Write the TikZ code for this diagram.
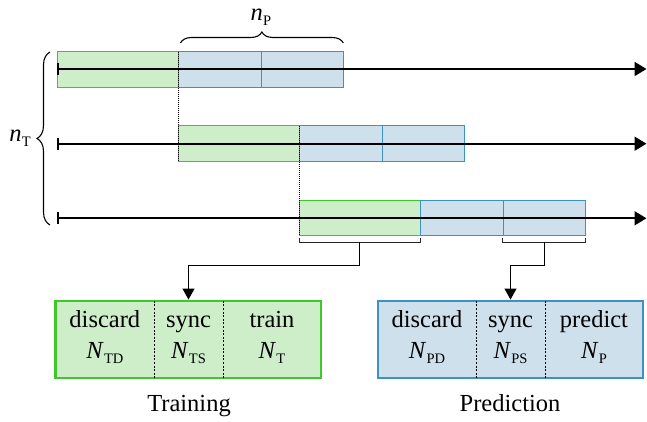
\documentclass[tikz,border=0pt]{standalone}
\usepackage{fontspec}
\setmainfont{Liberation Serif}[Ligatures=TeX]
\newfontfamily\timesfont{Liberation Serif}
\usetikzlibrary{arrows.meta,decorations.pathreplacing,calc}
\definecolor{gfill}{RGB}{205,238,200}
\definecolor{gline}{RGB}{62,200,45}
\definecolor{bfill}{RGB}{205,224,236}
\definecolor{bline}{RGB}{62,145,195}
\newcommand{\symsub}[2]{\textit{#1}\kern0.3pt\raisebox{-0.2em}{\fontsize{14.5}{14.5}\selectfont #2}}
\begin{document}
\begin{tikzpicture}[x=1pt,y=-1pt,
  font=\timesfont\fontsize{24.5}{29}\selectfont,
  seg/.style={minimum height=35.6pt, inner sep=0pt, outer sep=0pt, anchor=west, line width=0.8pt},
  gseg/.style={seg, fill=gfill, draw=gline, minimum width=121pt},
  bseg/.style={seg, fill=bfill, draw=bline, minimum width=82.6pt},
  tline/.style={line width=1.8pt, {Bar[width=12pt,line width=1.6pt]}-{Triangle[length=12pt,width=14pt]}},
  guide/.style={line width=0.7pt, dash pattern=on 1pt off 1pt},
  bracket/.style={line width=1.1pt, black!85},
  conn/.style={line width=1.2pt, -{Triangle[length=11pt,width=12pt]}},
  cell/.style={minimum height=77.3pt, inner sep=0pt, outer sep=0pt, anchor=west},
  gcell/.style={cell, fill=gfill},
  bcell/.style={cell, fill=bfill},
  divider/.style={line width=0.8pt, dash pattern=on 2pt off 1.6pt},
  lbl/.style={anchor=base, inner sep=0pt},
  bracestyle/.style={line width=1.1pt, decorate}
]
\useasboundingbox (0,0) rectangle (647,422);

% row 1
\node[gseg] (g1) at (57.3,69.5) {};
\node[bseg] (b1a) at (g1.east) {};
\node[bseg] (b1b) at (b1a.east) {};
% row 2
\node[gseg] (g2) at (178.3,143.7) {};
\node[bseg] (b2a) at (g2.east) {};
\node[bseg] (b2b) at (b2a.east) {};
% row 3
\node[gseg] (g3) at (299.3,218) {};
\node[bseg] (b3a) at (g3.east) {};
\node[bseg] (b3b) at (b3a.east) {};

% timelines
\coordinate (s1) at (57.3,69);
\coordinate (e1) at (646.5,69);
\coordinate (s2) at (57.3,143.7);
\coordinate (e2) at (646.5,143.7);
\coordinate (s3) at (57.3,218.3);
\coordinate (e3) at (646.5,218.3);
\draw[tline] (s1) -- (e1);
\draw[tline] (s2) -- (e2);
\draw[tline] (s3) -- (e3);

% dotted guides
\draw[guide] (b1a.north west) -- (g2.south west);
\draw[guide] (b2a.north west) -- (g3.south west);

% braces
\coordinate (np1) at (180.5,43);
\coordinate (np2) at (343.3,43);
\draw[bracestyle, decoration={brace, amplitude=11pt, aspect=0.5}] (np1) -- (np2);
\node[lbl] (npl) at (261,21) {\symsub{n}{P}};
\coordinate (nt1) at (50,225);
\coordinate (nt2) at (50,52);
\draw[bracestyle, decoration={brace, amplitude=13pt}] (nt1) -- (nt2);
\node[lbl] (ntl) at (20,141.5) {\symsub{n}{T}};

% brackets under row 3
\coordinate (gbA) at ($(g3.south west)+(0,2.5)$);
\coordinate (gbB) at ($(g3.south east)+(0,2.5)$);
\draw[bracket] (gbA) -- ++(0,4) -| (gbB);
\coordinate (pbA) at ($(b3b.south west)+(0,2.5)$);
\coordinate (pbB) at ($(b3b.south east)+(0,2.5)$);
\draw[bracket] (pbA) -- ++(0,4) -| (pbB);
\coordinate (gbM) at ($(g3.south)+(0,6.5)$);
\coordinate (pbM) at ($(b3b.south)+(0,6.5)$);

% training box
\node[gcell, minimum width=98.3pt] (td) at (55.7,339.4) {};
\node[gcell, minimum width=69pt] (ts) at (td.east) {};
\node[gcell, minimum width=98pt] (tt) at (ts.east) {};
\draw[gline, line width=2.5pt] (td.north west) rectangle (tt.south east);
\draw[divider] (td.north east) -- (td.south east);
\draw[divider] (ts.north east) -- (ts.south east);
\node[lbl] (tdw) at ($(td.center)+(0,-12)$) {discard};
\node[lbl] (tdn) at ($(td.center)+(0,19.5)$) {\symsub{N}{TD}};
\node[lbl] (tsw) at ($(ts.center)+(0,-12)$) {sync};
\node[lbl] (tsn) at ($(ts.center)+(0,19.5)$) {\symsub{N}{TS}};
\node[lbl] (ttw) at ($(tt.center)+(0,-12)$) {train};
\node[lbl] (ttn) at ($(tt.center)+(0,19.5)$) {\symsub{N}{T}};
\node[lbl] (trl) at (189,411) {Training};

% prediction box
\node[bcell, minimum width=98pt] (pd) at (378,339.4) {};
\node[bcell, minimum width=69pt] (ps) at (pd.east) {};
\node[bcell, minimum width=98pt] (pp) at (ps.east) {};
\draw[bline, line width=2.5pt] (pd.north west) rectangle (pp.south east);
\draw[divider] (pd.north east) -- (pd.south east);
\draw[divider] (ps.north east) -- (ps.south east);
\node[lbl] (pdw) at ($(pd.center)+(0,-12)$) {discard};
\node[lbl] (pdn) at ($(pd.center)+(0,19.5)$) {\symsub{N}{PD}};
\node[lbl] (psw) at ($(ps.center)+(0,-12)$) {sync};
\node[lbl] (psn) at ($(ps.center)+(0,19.5)$) {\symsub{N}{PS}};
\node[lbl] (ppw) at ($(pp.center)+(0,-12)$) {predict};
\node[lbl] (ppn) at ($(pp.center)+(0,19.5)$) {\symsub{N}{P}};
\node[lbl] (prl) at (510,411) {Prediction};

% connectors
\draw[conn] (gbM) -- ++(0,23.5) -| ([yshift=1.2pt]ts.north);
\draw[conn] (pbM) -- ++(0,23.5) -| ([yshift=1.2pt]ps.north);
\end{tikzpicture}
\end{document}
